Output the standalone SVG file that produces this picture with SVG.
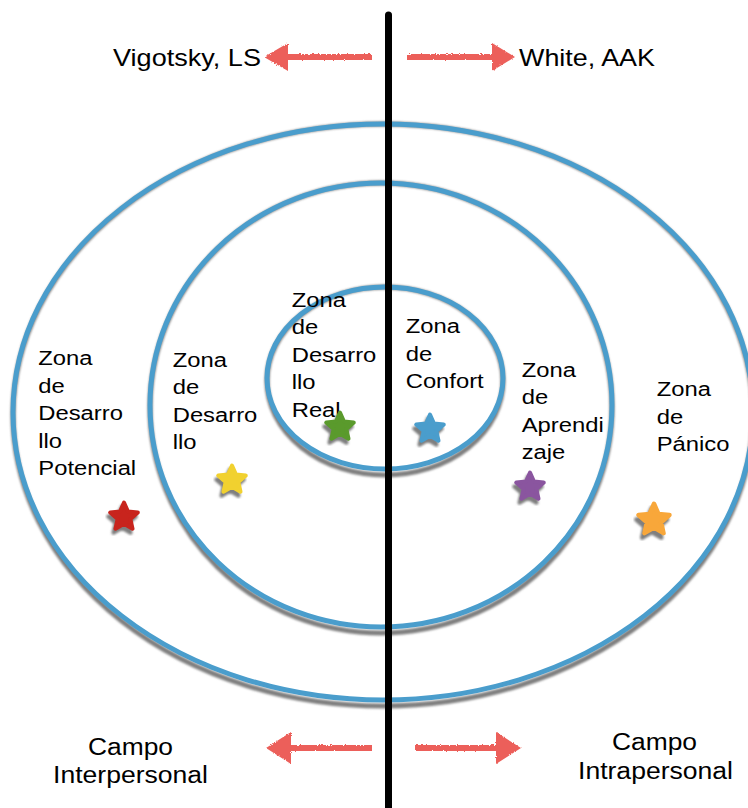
<svg xmlns="http://www.w3.org/2000/svg" width="748" height="808" viewBox="0 0 748 808">
  <style>
    .ring { fill: none; stroke: #4a9dcc; stroke-width: 5; }
    .ring-shadow { fill: none; stroke: #7f7f7f; stroke-width: 5; filter: url(#soft); }
    .label { font-family: "Liberation Sans", Arial, sans-serif; font-size: 20px; fill: #000; }
    .title { font-family: "Liberation Sans", Arial, sans-serif; font-size: 24px; fill: #000; }
    .field { font-family: "Liberation Sans", Arial, sans-serif; font-size: 23px; fill: #000; }
    .arrow { fill: #ec5f5a; filter: url(#rough); }
    .star-shadow { fill: #7f7f7f; stroke: #7f7f7f; stroke-width: 4; stroke-linejoin: round; filter: url(#soft); }
    .star { stroke-width: 4; stroke-linejoin: round; }
  </style>
  <defs>
    <filter id="soft" x="-10%" y="-10%" width="120%" height="120%">
      <feGaussianBlur stdDeviation="0.8"/>
    </filter>
    <filter id="rough" x="-10%" y="-30%" width="120%" height="160%">
      <feTurbulence type="fractalNoise" baseFrequency="0.9" numOctaves="1" seed="3" result="noise"/>
      <feDisplacementMap in="SourceGraphic" in2="noise" scale="3" xChannelSelector="R" yChannelSelector="G"/>
    </filter>
    <path id="star" d="M0,-14.5 L3.96,-5.45 L13.79,-4.48 L6.4,2.08 L8.52,11.73 L0,6.73 L-8.52,11.73 L-6.4,2.08 L-13.79,-4.48 L-3.96,-5.45 Z"/>
  </defs>

  <!-- concentric zones -->
  <g id="zone-outer">
    <ellipse class="ring-shadow" cx="383" cy="415" rx="370" ry="291"/>
    <ellipse class="ring" cx="383" cy="412" rx="370" ry="288"/>
  </g>
  <g id="zone-middle">
    <ellipse class="ring-shadow" cx="381" cy="408" rx="231" ry="225"/>
    <ellipse class="ring" cx="381" cy="405" rx="231" ry="222"/>
  </g>
  <g id="zone-inner">
    <ellipse class="ring-shadow" cx="385" cy="381" rx="118" ry="94"/>
    <ellipse class="ring" cx="385" cy="378" rx="118" ry="91"/>
  </g>

  <!-- dividing axis and direction arrows -->
  <g id="connectors">
    <line x1="388.5" y1="15" x2="388.5" y2="812" stroke="#000" stroke-width="7" stroke-linecap="round"/>
    <path class="arrow" d="M372,54 L288,54 L288,43 L264,57 L288,71 L288,60 L372,60 Z"/>
    <path class="arrow" d="M407,54 L492,54 L492,43 L515,57 L492,71 L492,60 L407,60 Z"/>
    <path class="arrow" d="M372,745 L291,745 L291,732 L266,748 L291,764 L291,751 L372,751 Z"/>
    <path class="arrow" d="M415,745 L496,745 L496,732 L521,748 L496,764 L496,751 L415,751 Z"/>
  </g>

  <g id="title-left">
    <text class="title" x="113" y="66" textLength="148" lengthAdjust="spacingAndGlyphs">Vigotsky, LS</text>
  </g>
  <g id="title-right">
    <text class="title" x="519" y="66" textLength="136" lengthAdjust="spacingAndGlyphs">White, AAK</text>
  </g>

  <g id="field-inter">
    <text class="field" x="88" y="755" textLength="85" lengthAdjust="spacingAndGlyphs">Campo</text>
    <text class="field" x="53" y="783" textLength="155" lengthAdjust="spacingAndGlyphs">Interpersonal</text>
  </g>
  <g id="field-intra">
    <text class="field" x="612" y="750" textLength="85" lengthAdjust="spacingAndGlyphs">Campo</text>
    <text class="field" x="578" y="779" textLength="155" lengthAdjust="spacingAndGlyphs">Intrapersonal</text>
  </g>

  <!-- zone labels (slightly widened lettering) -->
  <g id="label-potencial">
    <text class="label" transform="translate(38.3,365) scale(1.19,1)"><tspan x="0">Zona</tspan><tspan x="0" dy="27.6">de</tspan><tspan x="0" dy="27.6">Desarro</tspan><tspan x="0" dy="27.6">llo</tspan><tspan x="0" dy="27.6">Potencial</tspan></text>
  </g>
  <g id="label-desarrollo">
    <text class="label" transform="translate(172.7,366.7) scale(1.19,1)"><tspan x="0">Zona</tspan><tspan x="0" dy="27.6">de</tspan><tspan x="0" dy="27.6">Desarro</tspan><tspan x="0" dy="27.6">llo</tspan></text>
  </g>
  <g id="label-real">
    <text class="label" transform="translate(291.7,306.7) scale(1.19,1)"><tspan x="0">Zona</tspan><tspan x="0" dy="27.6">de</tspan><tspan x="0" dy="27.6">Desarro</tspan><tspan x="0" dy="27.6">llo</tspan><tspan x="0" dy="27.6">Real</tspan></text>
  </g>
  <g id="label-confort">
    <text class="label" transform="translate(405.7,333.3) scale(1.19,1)"><tspan x="0">Zona</tspan><tspan x="0" dy="27.6">de</tspan><tspan x="0" dy="27.6">Confort</tspan></text>
  </g>
  <g id="label-aprendizaje">
    <text class="label" transform="translate(521.7,376.7) scale(1.19,1)"><tspan x="0">Zona</tspan><tspan x="0" dy="27.6">de</tspan><tspan x="0" dy="27.6">Aprendi</tspan><tspan x="0" dy="27.6">zaje</tspan></text>
  </g>
  <g id="label-panico">
    <text class="label" transform="translate(656.7,396) scale(1.19,1)"><tspan x="0">Zona</tspan><tspan x="0" dy="27.6">de</tspan><tspan x="0" dy="27.6">Pánico</tspan></text>
  </g>

  <!-- zone markers -->
  <g id="star-red" transform="translate(124,517)">
    <use href="#star" class="star-shadow" x="-2" y="4"/>
    <use href="#star" class="star" fill="#c8241d" stroke="#c8241d"/>
  </g>
  <g id="star-yellow" transform="translate(232,480)">
    <use href="#star" class="star-shadow" x="-2" y="4"/>
    <use href="#star" class="star" fill="#f1d12f" stroke="#f1d12f"/>
  </g>
  <g id="star-green" transform="translate(340,427)">
    <use href="#star" class="star-shadow" x="-2" y="4"/>
    <use href="#star" class="star" fill="#5a9a2c" stroke="#5a9a2c"/>
  </g>
  <g id="star-blue" transform="translate(430,429)">
    <use href="#star" class="star-shadow" x="-2" y="4"/>
    <use href="#star" class="star" fill="#4a9dcc" stroke="#4a9dcc"/>
  </g>
  <g id="star-purple" transform="translate(530,487)">
    <use href="#star" class="star-shadow" x="-2" y="4"/>
    <use href="#star" class="star" fill="#8a559f" stroke="#8a559f"/>
  </g>
  <g id="star-orange" transform="translate(654,520) scale(1.12)">
    <use href="#star" class="star-shadow" x="-2" y="4"/>
    <use href="#star" class="star" fill="#f8a73a" stroke="#f8a73a"/>
  </g>
</svg>
